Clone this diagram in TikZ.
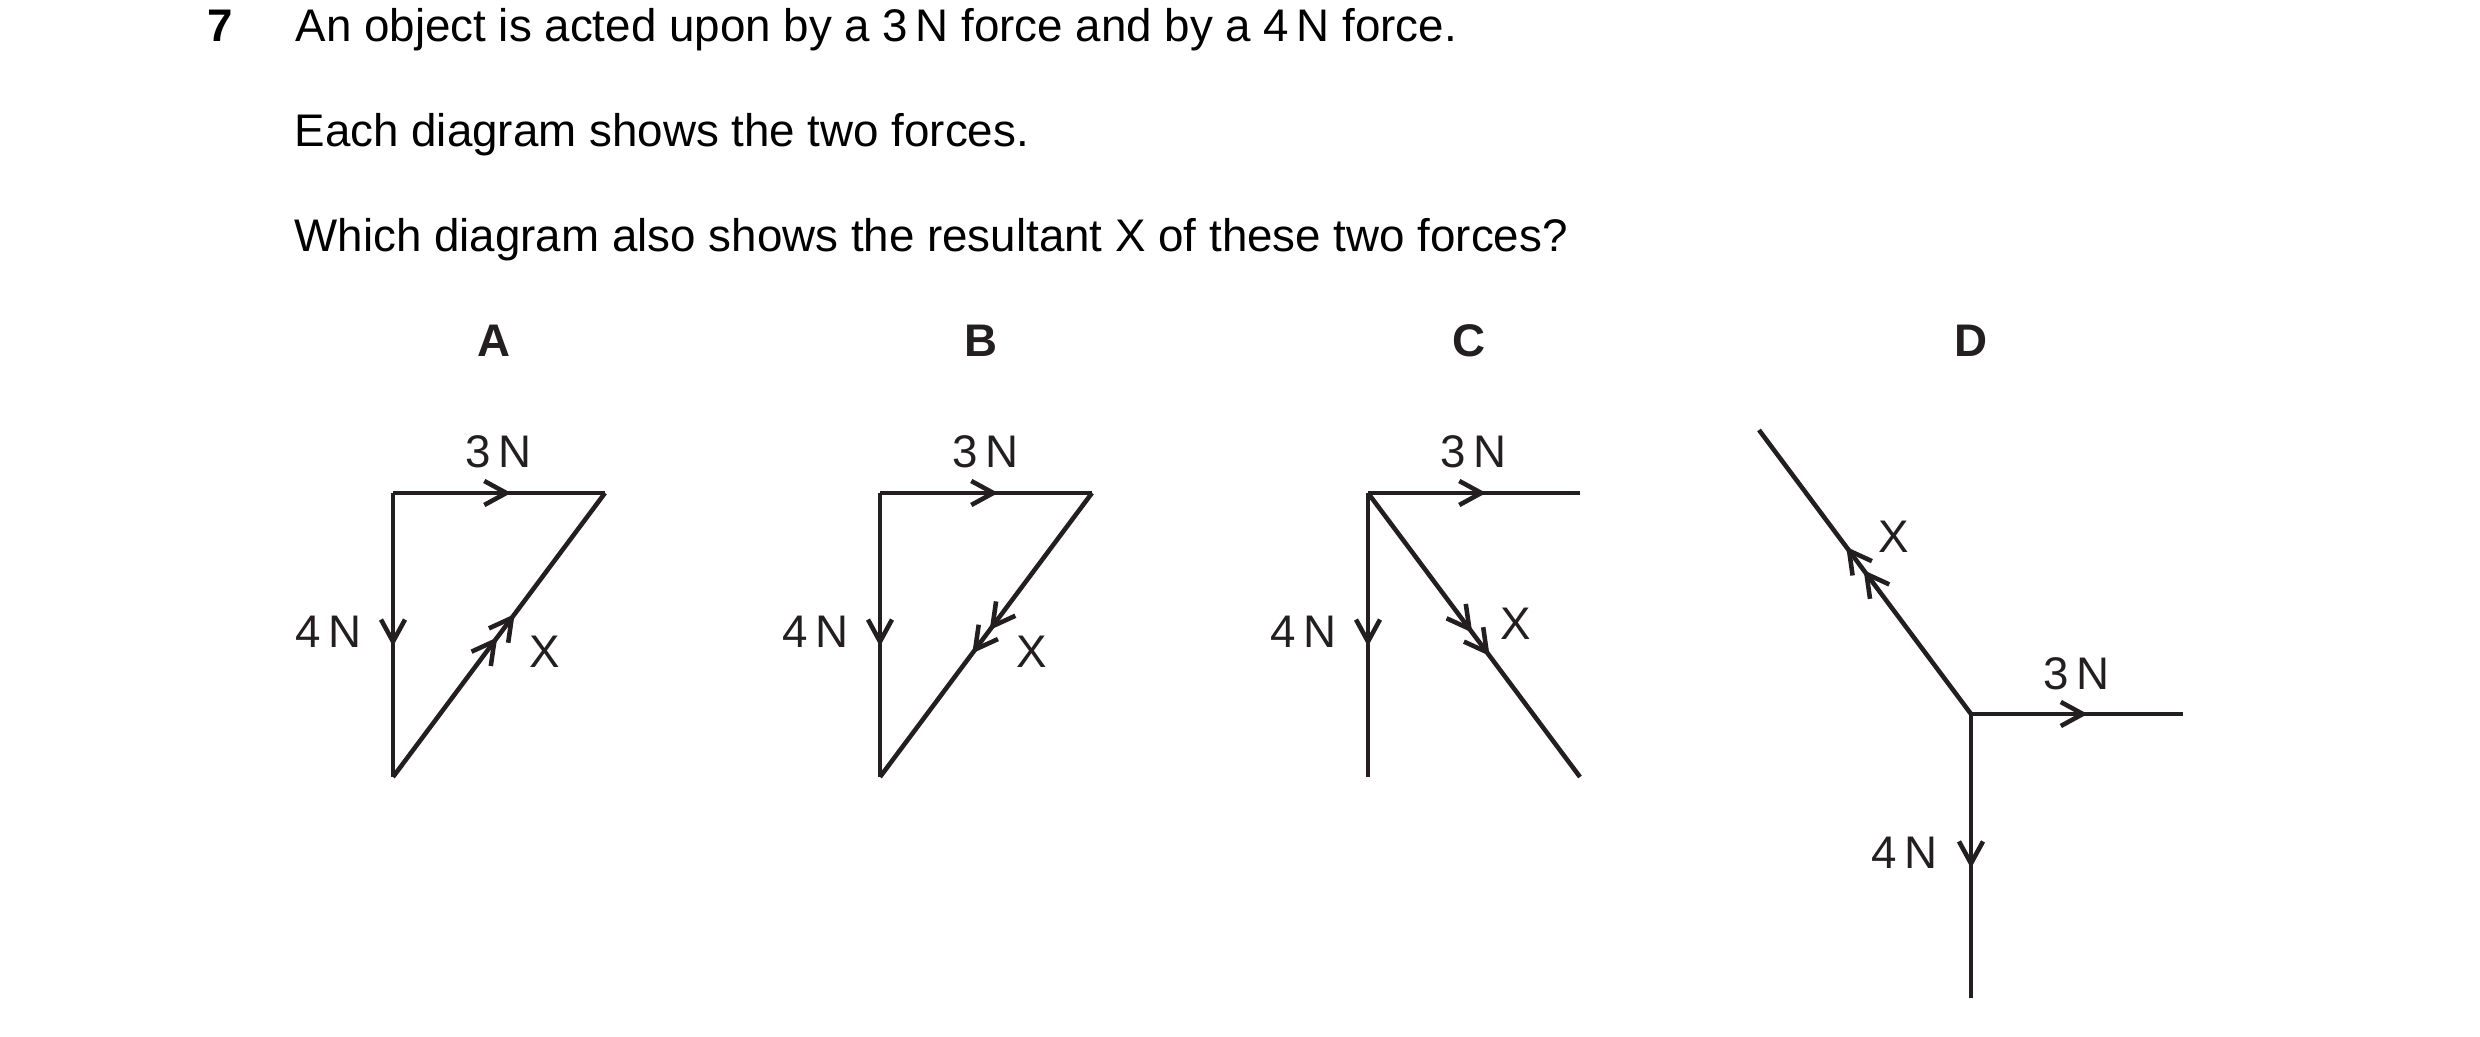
\documentclass[tikz,border=0pt]{standalone}
\usepackage{fontspec}
\setmainfont{Liberation Sans}
\usetikzlibrary{arrows.meta,decorations.markings}
\definecolor{ink}{RGB}{35,31,32}
\begin{document}
\begin{tikzpicture}[x=0.01cm,y=-0.01cm,
  every node/.style={inner sep=0pt,font=\fontsize{13}{16}\selectfont},
  vec/.style={line width=1.3pt,draw=ink},
  >={Straight Barb[length=0.22cm,width=0.24cm]},
  arr at/.style={postaction={decorate,decoration={markings,mark=at position #1 with {\arrow{>}}}}},
  darr at/.style={postaction={decorate,decoration={markings,mark=at position #1 with {\arrow{>>}}}}},
  lbl/.style={anchor=base,text=ink},
  ltr/.style={anchor=base,text=ink,font=\fontsize{13}{16}\selectfont\bfseries}]
\useasboundingbox (0,0) rectangle (2480,1037);
\pgfmathsetmacro\w{212};
\pgfmathsetmacro\h{284};
\node[anchor=base west,font=\fontsize{13}{16}\selectfont\bfseries] (qnum) at (207,42) {7};
\node[anchor=base west] (line1) at (295,42) {An object is acted upon by a 3\,N force and by a 4\,N force.};
\node[anchor=base west] (line2) at (294,147) {Each diagram shows the two forces.};
\node[anchor=base west] (line3) at (294,252) {Which diagram also shows the resultant X of these two forces?};
\foreach \n/\x in {A/393,B/880,C/1368} {
  \coordinate (\n-c) at (\x,493);
  \coordinate (\n-r) at (\x+\w,493);
  \coordinate (\n-b) at (\x,493+\h);
  \node[ltr] (\n-name) at (\x+101,357) {\n};
  \node[lbl] (\n-three) at (\x+106,468) {3\,N};
  \node[lbl] (\n-four) at (\x-64,648) {4\,N};
  \draw[vec,arr at=0.557] (\n-c) -- (\n-r);
  \draw[vec,arr at=0.54] (\n-c) -- (\n-b);
}
\coordinate (C-e) at (1368+\w,493+\h);
\draw[vec,darr at=0.575] (A-b) -- (A-r);
\draw[vec,darr at=0.566] (B-r) -- (B-b);
\draw[vec,darr at=0.575] (C-c) -- (C-e);
\node[lbl] (A-x) at (545,668) {X};
\node[lbl] (B-x) at (1032,668) {X};
\node[lbl] (C-x) at (1516,640) {X};
\coordinate (D-c) at (1971,714);
\coordinate (D-r) at (1971+\w,714);
\coordinate (D-b) at (1971,714+\h);
\coordinate (D-t) at (1971-\w,714-\h);
\node[ltr] (D-name) at (1971,357) {D};
\node[lbl] (D-three) at (2077,690) {3\,N};
\node[lbl] (D-four) at (1905,869) {4\,N};
\node[lbl] (D-x) at (1894,553) {X};
\draw[vec,arr at=0.55] (D-c) -- (D-r);
\draw[vec,arr at=0.543] (D-c) -- (D-b);
\draw[vec,darr at=0.59] (D-c) -- (D-t);
\end{tikzpicture}
\end{document}
